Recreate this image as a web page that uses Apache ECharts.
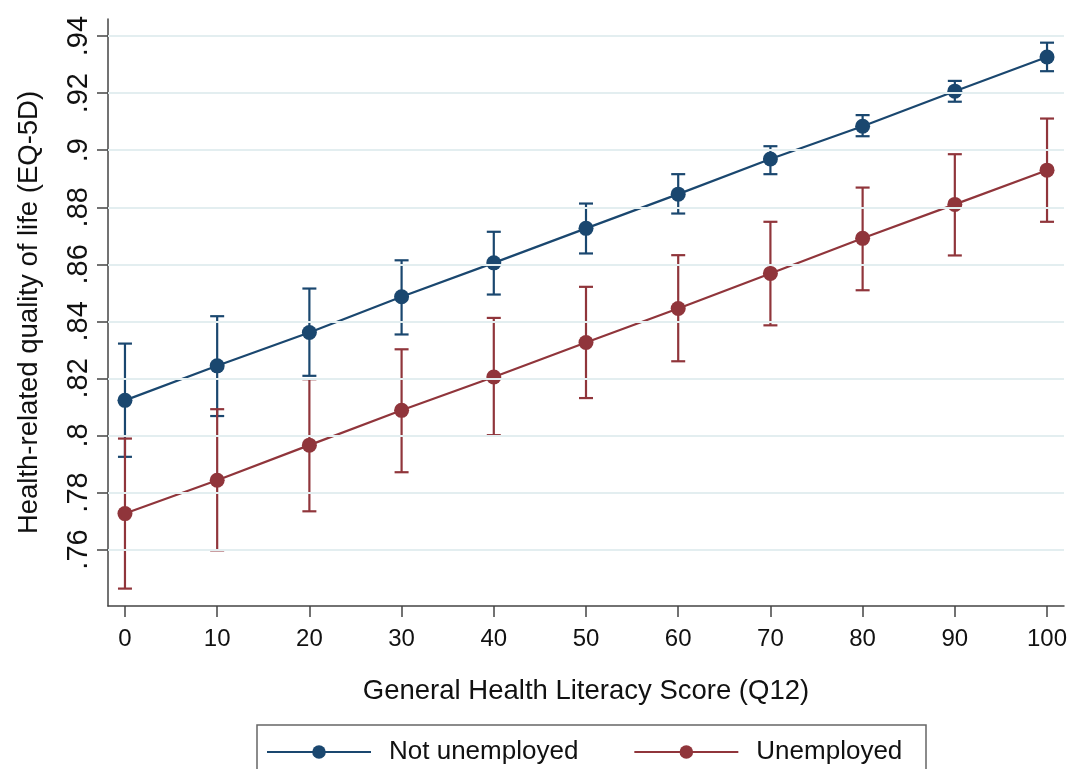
<!DOCTYPE html>
<html>
<head>
<meta charset="utf-8">
<script src="https://cdn.jsdelivr.net/npm/echarts@6/dist/echarts.min.js"></script>
<style>
  html, body { margin: 0; padding: 0; background: #fff; }
  #main { width: 1076px; height: 769px; }
</style>
</head>
<body>
<div id="main"></div>
<script>
// literacy score (x)
var scores = [0, 10, 20, 30, 40, 50, 60, 70, 80, 90, 100];

// Not unemployed: margin + 95% CI
var notUnemp   = [0.8123, 0.8244, 0.8361, 0.8486, 0.8605, 0.8726, 0.8846, 0.8969, 0.9084, 0.9207, 0.9327];
var notUnempLo = [0.7925, 0.8068, 0.8209, 0.8354, 0.8494, 0.8638, 0.8778, 0.8916, 0.9049, 0.9170, 0.9277];
var notUnempHi = [0.8322, 0.8418, 0.8515, 0.8614, 0.8714, 0.8813, 0.8916, 0.9014, 0.9123, 0.9243, 0.9377];

// Unemployed: margin + 95% CI
var unemp   = [0.7726, 0.7843, 0.7966, 0.8088, 0.8205, 0.8326, 0.8445, 0.8568, 0.8691, 0.8810, 0.8930];
var unempLo = [0.7463, 0.7597, 0.7734, 0.7871, 0.8001, 0.8131, 0.8260, 0.8386, 0.8509, 0.8631, 0.8749];
var unempHi = [0.7989, 0.8092, 0.8197, 0.8302, 0.8412, 0.8521, 0.8632, 0.8749, 0.8869, 0.8986, 0.9111];

// tick labels
var xTicks = [0, 10, 20, 30, 40, 50, 60, 70, 80, 90, 100];
var yTicks = [0.76, 0.78, 0.80, 0.82, 0.84, 0.86, 0.88, 0.90, 0.92, 0.94];

var BLUE = '#1a476f';
var RED = '#90353b';
var FONT = 'Liberation Sans, Arial, sans-serif';

function pairs(ys) {
  return scores.map(function (x, i) { return [x, ys[i]]; });
}
function ciData(lo, hi) {
  return scores.map(function (x, i) { return [x, lo[i], hi[i]]; });
}
// rcap style error bars
function capRenderer(color) {
  return function (params, api) {
    var x = api.value(0);
    var a = api.coord([x, api.value(1)]);
    var b = api.coord([x, api.value(2)]);
    var w = 7;
    var st = { stroke: color, lineWidth: 2.2 };
    return {
      type: 'group',
      children: [
        { type: 'line', shape: { x1: a[0], y1: a[1], x2: b[0], y2: b[1] }, style: st },
        { type: 'line', shape: { x1: a[0] - w, y1: a[1], x2: a[0] + w, y2: a[1] }, style: st },
        { type: 'line', shape: { x1: b[0] - w, y1: b[1], x2: b[0] + w, y2: b[1] }, style: st }
      ]
    };
  };
}

var chart = echarts.init(document.getElementById('main'));
var option = {
  backgroundColor: '#fff',
  animation: false,
  textStyle: { fontFamily: FONT },
  grid: { left: 108, right: 12, top: 19, bottom: 163 },
  legend: {
    data: ['Not unemployed', 'Unemployed'],
    left: 261,
    top: 734,
    itemWidth: 104,
    itemHeight: 17,
    itemGap: 55,
    textStyle: { fontSize: 26, color: '#111', fontFamily: FONT, padding: [0, 0, 0, 13] }
  },
  graphic: [{
    type: 'rect',
    shape: { x: 257, y: 725, width: 669, height: 70 },
    style: { fill: 'none', stroke: '#666', lineWidth: 1.5 },
    silent: true
  }],
  xAxis: {
    type: 'value',
    min: -1.84,
    max: 101.84,
    name: 'General Health Literacy Score (Q12)',
    nameLocation: 'middle',
    nameGap: 71,
    nameTextStyle: { fontSize: 27.5, color: '#111', fontFamily: FONT },
    axisLine: { show: true, onZero: false, lineStyle: { color: '#444', width: 1.5 } },
    axisTick: { show: true, customValues: xTicks, length: 11, lineStyle: { color: '#444', width: 1.5 } },
    axisLabel: { customValues: xTicks, fontSize: 24, color: '#111', margin: 21, fontFamily: FONT },
    splitLine: { show: false }
  },
  yAxis: {
    type: 'value',
    min: 0.7402,
    max: 0.946,
    name: 'Health-related quality of life (EQ-5D)',
    nameLocation: 'middle',
    nameRotate: 90,
    nameGap: 65,
    nameTextStyle: { fontSize: 27.5, color: '#111', fontFamily: FONT },
    axisLine: { show: true, onZero: false, lineStyle: { color: '#444', width: 1.5 } },
    axisTick: { show: true, customValues: yTicks, length: 11, lineStyle: { color: '#444', width: 1.5 } },
    axisLabel: {
      customValues: yTicks,
      rotate: 90,
      fontSize: 29,
      color: '#111',
      margin: 15,
      fontFamily: FONT,
      formatter: function (v) { return (+v.toFixed(2)).toString().replace(/^0/, ''); }
    },
    splitLine: { show: false }
  },
  series: [
    {
      name: 'Not unemployed CI',
      type: 'custom',
      renderItem: capRenderer(BLUE),
      data: ciData(notUnempLo, notUnempHi),
      z: 2,
      silent: true,
      markLine: {
        silent: true,
        symbol: 'none',
        label: { show: false },
        lineStyle: { color: '#e3eef0', width: 2, type: 'solid' },
        data: yTicks.map(function (v) { return { yAxis: v }; })
      }
    },
    {
      name: 'Unemployed CI',
      type: 'custom',
      renderItem: capRenderer(RED),
      data: ciData(unempLo, unempHi),
      z: 2,
      silent: true
    },
    {
      name: 'Not unemployed',
      type: 'line',
      data: pairs(notUnemp),
      symbol: 'circle',
      symbolSize: 15,
      lineStyle: { color: BLUE, width: 2.2 },
      itemStyle: { color: BLUE },
      z: 3
    },
    {
      name: 'Unemployed',
      type: 'line',
      data: pairs(unemp),
      symbol: 'circle',
      symbolSize: 15,
      lineStyle: { color: RED, width: 2.2 },
      itemStyle: { color: RED },
      z: 3
    }
  ]
};
chart.setOption(option);
</script>
</body>
</html>
